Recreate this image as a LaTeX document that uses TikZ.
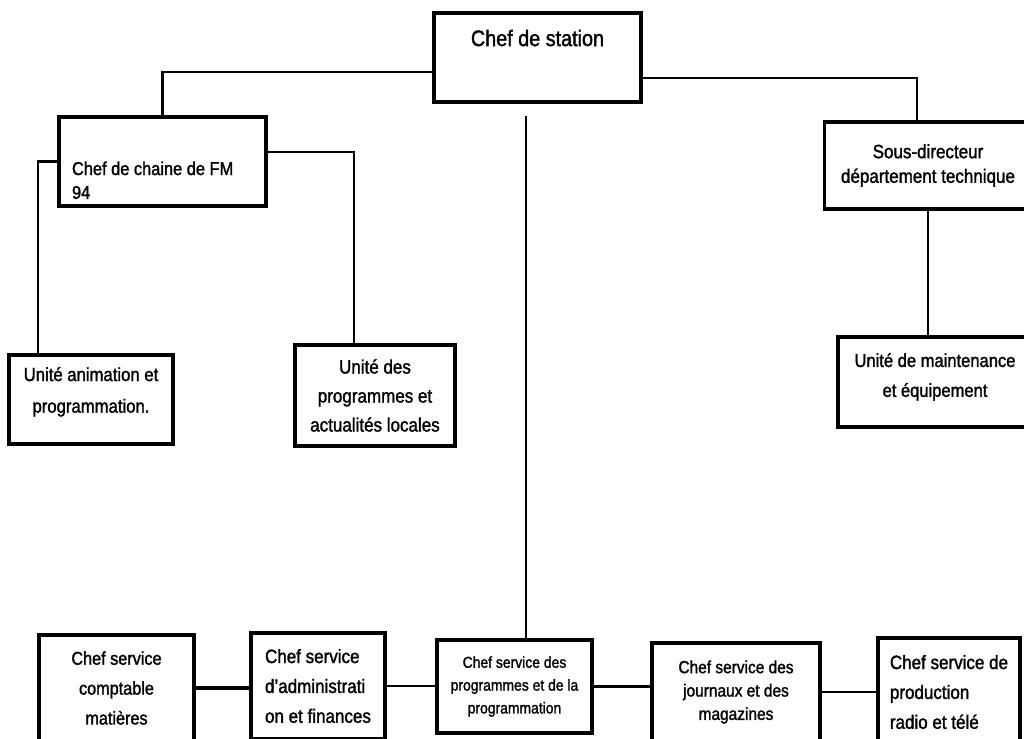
\documentclass[tikz,border=0pt]{standalone}
\usepackage{fontspec}
\setmainfont{Liberation Sans}[FakeStretch=0.88,FakeBold=1.5]

\begin{document}
\begin{tikzpicture}[x=0.02cm,y=-0.02cm,
  box/.style={draw,line width=1.8pt,align=center,inner sep=2pt,font=\fontsize{11}{17}\selectfont},
  link/.style={line width=1.2pt}]
\clip (0,0) rectangle (1024,738);

% top
\node[box,minimum width=4.14cm,minimum height=1.78cm,font=\fontsize{12.8}{15}\selectfont,
  text height=10pt,text depth=23pt] (station) at (537.5,57.5) {Chef de station};
\node[box,minimum width=4.14cm,minimum height=1.78cm,text width=3.62cm,align=flush left,
  font=\fontsize{10.6}{13.6}\selectfont,text height=30pt,text depth=14.6pt] (chaine) at (162.5,161.5) {Chef de chaine de FM\\94};
\node[box,minimum width=4.14cm,minimum height=1.74cm,font=\fontsize{11}{14}\selectfont] (sous) at (928,165.5) {Sous-directeur\\département technique};

% units
\node[box,minimum width=3.28cm,minimum height=1.78cm,font=\fontsize{10.8}{18}\selectfont,
  text depth=11pt] (anim) at (91,399.5) {Unité animation et\\programmation.};
\node[box,minimum width=3.2cm,minimum height=2.02cm,font=\fontsize{11}{16.5}\selectfont] (progloc) at (375,395.5) {Unité des\\programmes et\\actualités locales};
\node[box,minimum width=3.88cm,minimum height=1.8cm,font=\fontsize{10.7}{17}\selectfont,
  text depth=8pt] (maint) at (935,382) {Unité de maintenance\\et équipement};

% services
\node[box,minimum width=3.1cm,minimum height=2.12cm,font=\fontsize{10.5}{17}\selectfont] (b1) at (116.5,688) {Chef service\\comptable\\matières};
\node[box,minimum width=2.68cm,minimum height=2.12cm,align=left] (b2) at (318,686) {Chef service\\d’administrati\\on et finances};
\node[box,minimum width=3.1cm,minimum height=1.86cm,font=\fontsize{9}{13}\selectfont] (b3) at (514.5,686.5) {Chef service des\\programmes et de la\\programmation};
\node[box,minimum width=3.36cm,minimum height=1.96cm,font=\fontsize{10}{13.3}\selectfont] (b4) at (736,692) {Chef service des\\journaux et des\\magazines};
\node[box,minimum width=2.84cm,minimum height=2.16cm,align=left] (b5) at (949,692) {Chef service de\\production\\radio et télé};

\draw[link] ([yshift=-0.29cm]station.west) -| (chaine.north);
\draw[link] ([yshift=-0.41cm]station.east) -| ([xshift=-0.22cm]sous.north);
\draw[link] (sous.south) -- (sous.south |- maint.north);
\draw[link] (chaine.west) -| ([xshift=-1.06cm]anim.north);
\draw[link] ([yshift=0.19cm]chaine.east) -| ([xshift=-0.42cm]progloc.north);

\coordinate (vtop) at (526,116);
\draw[link] (vtop) -- (vtop |- b3.north);

\draw[line width=2.4pt] (b1.east) -- (b1.east -| b2.west);
\draw[link] (b2.east) -- (b2.east -| b3.west);
\draw[link] (b3.east) -- (b3.east -| b4.west);
\draw[link] (b4.east) -- (b4.east -| b5.west);
\end{tikzpicture}
\end{document}
